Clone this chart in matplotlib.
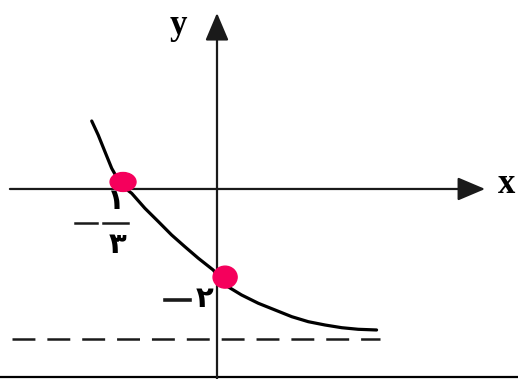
import matplotlib.pyplot as plt
from matplotlib.patches import Ellipse

plt.rcParams['lines.scale_dashes'] = False

# curve (x in units of 1, y in units of 1)
curve_x = [-0.464, -0.440, -0.415, -0.390, -0.359, -0.337, -0.316, -0.267, -0.217,
           -0.168, -0.119, -0.069, -0.014, 0.0, 0.030, 0.091, 0.153, 0.215, 0.277,
           0.338, 0.400, 0.462, 0.523, 0.591]
curve_y = [1.581, 1.256, 0.867, 0.481, 0.133, 0.0, -0.100, -0.449, -0.760,
           -1.070, -1.342, -1.612, -1.884, -1.993, -2.233, -2.465, -2.658, -2.814, -2.970,
           -3.086, -3.163, -3.226, -3.263, -3.279]

asymptote_y = -3.488
asymptote_x = [-0.76, 0.604]

# hand-drawn pink dots marking the intercepts
dots_x = [-0.348, 0.030]
dots_y = [0.163, -2.05]
dots_w = [0.096, 0.089]
dots_h = [0.44, 0.51]

fig = plt.figure(figsize=(5.18, 3.79), dpi=100)
ax = fig.add_axes([0, 0, 1, 1])
ax.set_xlim(-0.8037, 1.1148)
ax.set_ylim(-4.419, 4.395)
ax.axis('off')

axis_col = '#1a1a1a'
arrow = dict(arrowstyle='-|>,head_length=0.85,head_width=0.36', mutation_scale=20,
             lw=1.6, color=axis_col, shrinkA=0, shrinkB=0)
ax.annotate('', xy=(0.993, 0), xytext=(-0.767, 0), arrowprops=arrow)
ax.annotate('', xy=(0, 4.093), xytext=(0, -4.5), arrowprops=arrow)

ax.text(1.072, 0.093, 'x', fontsize=25, fontweight='bold', family='Liberation Serif',
        ha='center', va='center')
ax.text(-0.144, 3.80, 'y', fontsize=25, fontweight='bold', family='Liberation Serif',
        ha='center', va='center')

# dashed asymptote
ax.plot(asymptote_x, [asymptote_y, asymptote_y], color=axis_col, lw=1.8,
        dashes=(16.5, 8.6))

# the curve
ax.plot(curve_x, curve_y, color='black', lw=2.3, solid_capstyle='round',
        solid_joinstyle='round')

# labels: -1/3 and -2 in Arabic-Indic digits
ax.text(-0.374, -0.28, '١', fontsize=21, fontweight='bold', ha='center', va='center')
ax.plot([-0.422, -0.330], [-0.791, -0.791], color=axis_col, lw=1.8)
ax.plot([-0.526, -0.444], [-0.791, -0.791], color=axis_col, lw=1.8)
ax.text(-0.367, -1.30, '٣', fontsize=21, fontweight='bold', ha='center', va='center')

ax.plot([-0.193, -0.100], [-2.581, -2.581], color=axis_col, lw=2.6)
ax.text(-0.046, -2.56, '٢', fontsize=21, fontweight='bold', ha='center', va='center')

for x, y, w, h in zip(dots_x, dots_y, dots_w, dots_h):
    ax.add_patch(Ellipse((x, y), w, h, color='#f5005c', zorder=5))

# frame line along the bottom
ax.axhline(-4.384, color='black', lw=1.6)

fig.savefig('out.png', dpi=100)
